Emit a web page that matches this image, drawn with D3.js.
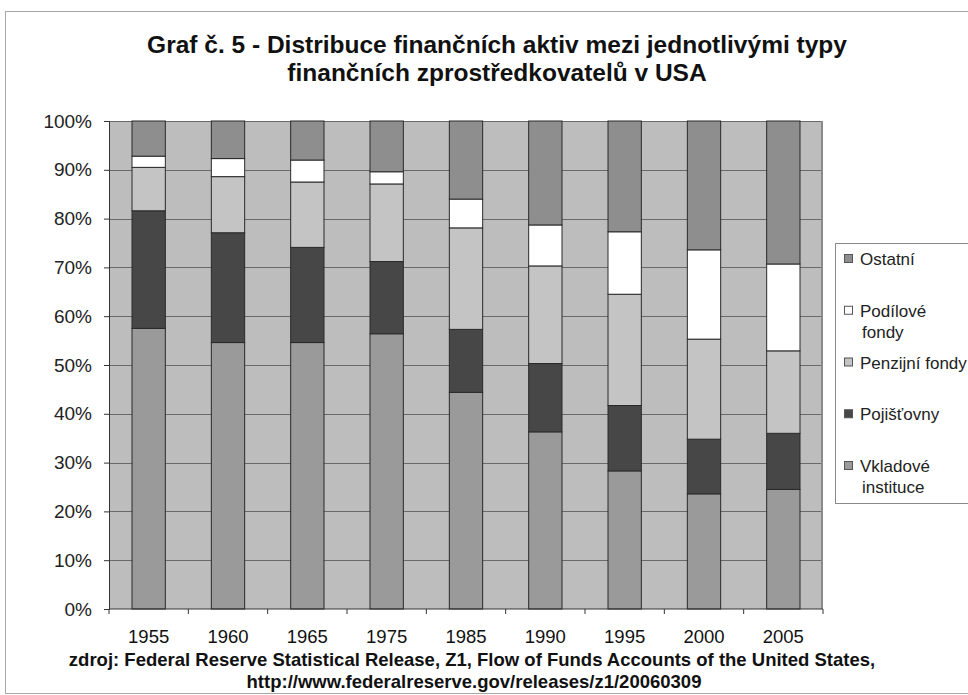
<!DOCTYPE html>
<html>
<head>
<meta charset="utf-8">
<script src="https://cdn.jsdelivr.net/npm/d3@7"></script>
<style>
	body { margin: 0; background: #fff; }
	svg { display: block; font-family: "Liberation Sans", Arial, sans-serif; }
</style>
</head>
<body>
<svg id="chart" width="968" height="695"></svg>
<script>
// categories (years) and stacked series, in % of total, bottom to top
var years = ["1955", "1960", "1965", "1975", "1985", "1990", "1995", "2000", "2005"];
var vkladove = [57.5, 54.6, 54.6, 56.4, 44.4, 36.3, 28.3, 23.6, 24.5];
var pojistovny = [24.1, 22.5, 19.5, 14.8, 12.9, 14.0, 13.4, 11.2, 11.5];
var penzijni = [8.9, 11.5, 13.4, 15.9, 20.8, 20.0, 22.8, 20.5, 16.9];
var podilove = [2.3, 3.7, 4.5, 2.5, 5.9, 8.4, 12.8, 18.3, 17.8];
var ostatni = [7.2, 7.7, 8.0, 10.4, 16.0, 21.3, 22.7, 26.4, 29.3];
var yTicks = [0, 10, 20, 30, 40, 50, 60, 70, 80, 90, 100];

var seriesNames = ["Vkladové instituce", "Pojišťovny", "Penzijní fondy", "Podílové fondy", "Ostatní"];
var seriesColors = ["#9a9a9a", "#474747", "#c4c4c4", "#ffffff", "#8e8e8e"];
var legendLines = {
	"Ostatní": ["Ostatní"],
	"Podílové fondy": ["Podílové", "fondy"],
	"Penzijní fondy": ["Penzijní fondy"],
	"Pojišťovny": ["Pojišťovny"],
	"Vkladové instituce": ["Vkladové", "instituce"]
};

var svg = d3.select("#chart"),
	margin = {top: 121, right: 145, bottom: 86, left: 109},
	width = +svg.attr("width") - margin.left - margin.right,
	height = +svg.attr("height") - margin.top - margin.bottom;

// outer frame
svg.append("rect")
	.attr("x", 5.5).attr("y", 11.5)
	.attr("width", 990).attr("height", 682)
	.attr("fill", "none").attr("stroke", "#a8a8a8");

// title
var title = svg.append("text")
	.attr("text-anchor", "middle")
	.attr("font-weight", "bold")
	.attr("font-size", 24.5)
	.attr("fill", "#111");
title.append("tspan").attr("x", 497).attr("y", 53)
	.text("Graf č. 5 - Distribuce finančních aktiv mezi jednotlivými typy");
title.append("tspan").attr("x", 497).attr("y", 81)
	.text("finančních zprostředkovatelů v USA");

var rows = years.map(function(y, i) {
	return {
		year: y,
		"Vkladové instituce": vkladove[i],
		"Pojišťovny": pojistovny[i],
		"Penzijní fondy": penzijni[i],
		"Podílové fondy": podilove[i],
		"Ostatní": ostatni[i]
	};
});
var stacked = d3.stack().keys(seriesNames)(rows);

var x = d3.scaleBand()
	.domain(years)
	.range([0, width])
	.paddingInner(0.58)
	.paddingOuter(0.29);
var y = d3.scaleLinear()
	.domain([0, 100])
	.range([height, 0]);
var color = d3.scaleOrdinal().domain(seriesNames).range(seriesColors);

var chart = svg.append("g")
	.attr("transform", "translate(" + margin.left + "," + margin.top + ")");

chart.append("rect")
	.attr("width", width).attr("height", height)
	.attr("fill", "#bdbdbd");

// gridlines
chart.append("g")
	.selectAll("line")
	.data(yTicks.slice(1))
	.enter().append("line")
	.attr("x1", 0).attr("x2", width)
	.attr("y1", function(d) { return Math.round(y(d)) + 0.5; })
	.attr("y2", function(d) { return Math.round(y(d)) + 0.5; })
	.attr("stroke", "#6a6a6a");

// bars
chart.append("g")
	.selectAll("g")
	.data(stacked)
	.enter().append("g")
	.attr("fill", function(d) { return color(d.key); })
	.selectAll("rect")
	.data(function(d) { return d; })
	.enter().append("rect")
	.attr("x", function(d) { return x(d.data.year); })
	.attr("y", function(d) { return y(d[1]); })
	.attr("height", function(d) { return y(d[0]) - y(d[1]); })
	.attr("width", x.bandwidth())
	.attr("stroke", "#2a2a2a")
	.attr("stroke-width", 1);

// right edge of plot area
chart.append("line")
	.attr("x1", width - 1).attr("x2", width - 1)
	.attr("y1", 0).attr("y2", height)
	.attr("stroke", "#8a8a8a").attr("stroke-width", 2);

// y axis
var yAxis = chart.append("g")
	.call(d3.axisLeft(y).tickValues(yTicks).tickSize(5).tickPadding(12)
		.tickFormat(function(d) { return d + "%"; }));
yAxis.selectAll("text").attr("font-size", 19).attr("fill", "#222").attr("font-family", "Liberation Sans, Arial, sans-serif");
yAxis.selectAll("line, path").attr("stroke", "#333");

// x axis with ticks between categories
var xAxis = chart.append("g")
	.attr("transform", "translate(0," + height + ")");
xAxis.append("line")
	.attr("x1", 0).attr("x2", width)
	.attr("stroke", "#333");
xAxis.selectAll("line.tick")
	.data(d3.range(years.length + 1))
	.enter().append("line")
	.attr("class", "tick")
	.attr("x1", function(i) { return i * x.step(); })
	.attr("x2", function(i) { return i * x.step(); })
	.attr("y1", 0).attr("y2", 5)
	.attr("stroke", "#333");
xAxis.selectAll("text")
	.data(years)
	.enter().append("text")
	.attr("x", function(d) { return x(d) + x.bandwidth() / 2; })
	.attr("y", 34)
	.attr("text-anchor", "middle")
	.attr("font-size", 18.5)
	.attr("fill", "#111")
	.text(function(d) { return d; });

// source note
var source = svg.append("text")
	.attr("text-anchor", "middle")
	.attr("font-weight", "bold")
	.attr("font-size", 18.5)
	.attr("fill", "#111");
source.append("tspan").attr("x", 472).attr("y", 666)
	.text("zdroj: Federal Reserve Statistical Release, Z1, Flow of Funds Accounts of the United States,");
source.append("tspan").attr("x", 474).attr("y", 688)
	.text("http://www.federalreserve.gov/releases/z1/20060309");

// legend
var legend = svg.append("g");
legend.append("rect")
	.attr("x", 835.5).attr("y", 243.5)
	.attr("width", 150).attr("height", 260)
	.attr("fill", "#fff").attr("stroke", "#8a8a8a");

var legendOrder = seriesNames.slice().reverse();
var ly = d3.scalePoint().domain(legendOrder).range([259, 466]);

var item = legend.selectAll("g.item")
	.data(legendOrder)
	.enter().append("g")
	.attr("class", "item")
	.attr("transform", function(d) { return "translate(0," + ly(d) + ")"; });
item.append("rect")
	.attr("x", 844.5).attr("y", -4.5)
	.attr("width", 8).attr("height", 8)
	.attr("fill", function(d) { return color(d); })
	.attr("stroke", "#555");
item.append("text")
	.attr("font-size", 17)
	.attr("fill", "#222")
	.selectAll("tspan")
	.data(function(d) { return legendLines[d]; })
	.enter().append("tspan")
	.attr("x", function(d, i) { return i === 0 ? 860 : 862; })
	.attr("y", function(d, i) { return 6 + i * 21; })
	.text(function(d) { return d; });
</script>
</body>
</html>
